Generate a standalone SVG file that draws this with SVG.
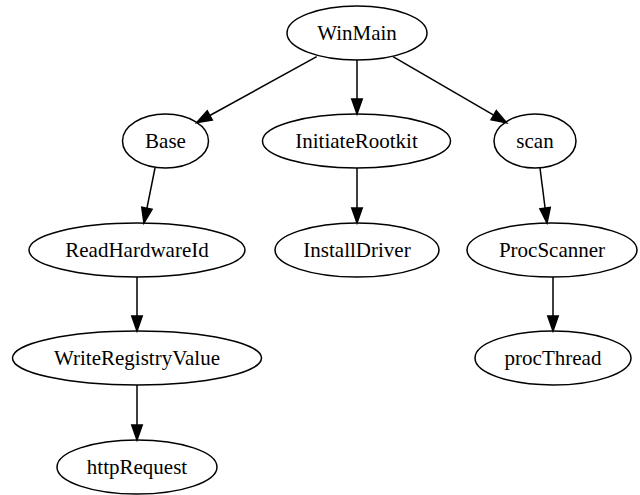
<svg xmlns="http://www.w3.org/2000/svg" width="640" height="495" viewBox="0 0 640 495">
  <style>
    .node ellipse { fill: none; stroke: #000; stroke-width: 1.5; }
    .node text { font-family: "Liberation Serif", "Times New Roman", serif; font-size: 21px; text-anchor: middle; fill: #000; }
    .edge { fill: none; stroke: #000; stroke-width: 1.5; marker-end: url(#arrow); }
  </style>
  <defs>
    <marker id="arrow" markerUnits="userSpaceOnUse" markerWidth="16" markerHeight="12" refX="0" refY="5.25" orient="auto" overflow="visible">
      <path d="M0,0 L15,5.25 L0,10.5 Z" fill="#000" stroke="#000" stroke-width="1.5"/>
    </marker>
  </defs>
  <rect width="640" height="495" fill="#fff"/>

  <g id="edges">
    <path class="edge" d="M316.7,56.7 L209.8,115.5"/>
    <path class="edge" d="M357,60 L357,99"/>
    <path class="edge" d="M393,56.7 L493.7,115.2"/>
    <path class="edge" d="M155,168 L146.9,208.3"/>
    <path class="edge" d="M357,168 L357,208"/>
    <path class="edge" d="M540,168 L545.1,208.1"/>
    <path class="edge" d="M137,277 L137,316"/>
    <path class="edge" d="M553,277 L553,316"/>
    <path class="edge" d="M137,385 L137,425"/>
  </g>

  <g id="WinMain" class="node">
    <ellipse cx="357" cy="33" rx="70" ry="27"/>
    <text x="357" y="40">WinMain</text>
  </g>
  <g id="Base" class="node">
    <ellipse cx="165.5" cy="141" rx="43" ry="27"/>
    <text x="165.5" y="148">Base</text>
  </g>
  <g id="InitiateRootkit" class="node">
    <ellipse cx="356.5" cy="141" rx="94" ry="27"/>
    <text x="356.5" y="148">InitiateRootkit</text>
  </g>
  <g id="scan" class="node">
    <ellipse cx="535" cy="141" rx="41" ry="27"/>
    <text x="535" y="148">scan</text>
  </g>
  <g id="ReadHardwareId" class="node">
    <ellipse cx="137" cy="250" rx="108" ry="27"/>
    <text x="137" y="257">ReadHardwareId</text>
  </g>
  <g id="InstallDriver" class="node">
    <ellipse cx="357" cy="250" rx="82" ry="27"/>
    <text x="357" y="257">InstallDriver</text>
  </g>
  <g id="ProcScanner" class="node">
    <ellipse cx="552" cy="250" rx="85" ry="27"/>
    <text x="552" y="257">ProcScanner</text>
  </g>
  <g id="WriteRegistryValue" class="node">
    <ellipse cx="137" cy="358" rx="124.5" ry="27"/>
    <text x="137" y="365">WriteRegistryValue</text>
  </g>
  <g id="procThread" class="node">
    <ellipse cx="553" cy="358" rx="78" ry="27"/>
    <text x="553" y="365">procThread</text>
  </g>
  <g id="httpRequest" class="node">
    <ellipse cx="137" cy="467" rx="80" ry="27"/>
    <text x="137" y="474">httpRequest</text>
  </g>
</svg>
